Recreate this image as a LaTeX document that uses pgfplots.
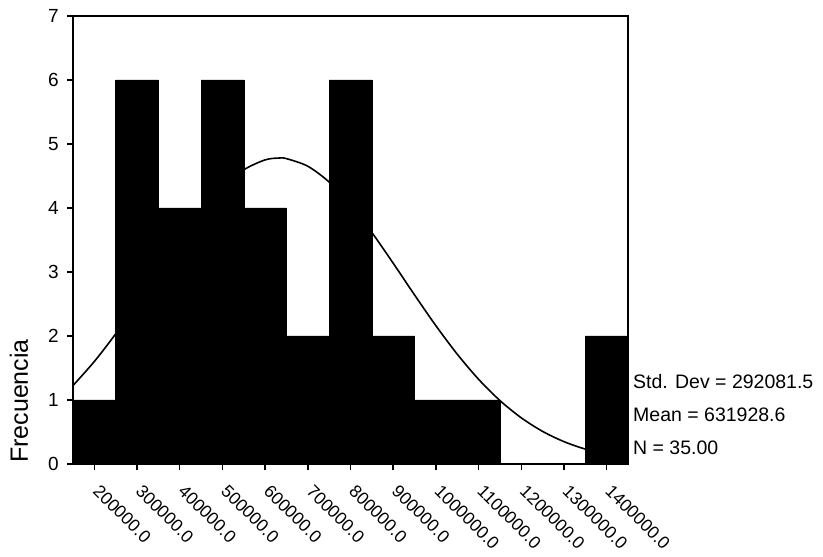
\documentclass[border=0pt]{standalone}
\usepackage{pgfplots}
\pgfplotsset{compat=1.18}
\usepackage{fontspec}
\setmainfont{Liberation Sans}
\begin{document}
\begin{tikzpicture}
\useasboundingbox (-73pt,-93pt) rectangle (750pt,464pt);
\begin{axis}[
  at={(0pt,0pt)}, anchor=south west,
  scale only axis, width=555pt, height=448pt,
  xmin=150000, xmax=1450000, ymin=0, ymax=7,
  axis line style={line width=1.4pt},
  tick pos=left, tick align=outside,
  major tick length=6pt,
  tick style={line width=1.4pt, black},
  xtick={200000,300000,400000,500000,600000,700000,800000,900000,1000000,1100000,1200000,1300000,1400000},
  xticklabels={200000.0,300000.0,400000.0,500000.0,600000.0,700000.0,800000.0,900000.0,1000000.0,1100000.0,1200000.0,1300000.0,1400000.0},
  scaled x ticks=false,
  ytick={0,1,2,3,4,5,6,7},
  /pgf/number format/assume math mode=true,
  xticklabel style={font=\fontsize{17.5}{20}\selectfont, rotate=-45, anchor=north west, inner sep=0pt, xshift=14pt, yshift=-5pt},
  yticklabel style={font=\fontsize{19}{22}\selectfont, anchor=east, inner sep=0pt, xshift=-8pt},
  clip=true,
  axis on top,
]
\addplot[black, line width=1.6pt, smooth] coordinates {
(150000,1.2255) (200000,1.6018) (250000,2.0332) (300000,2.5064) (350000,3.0004)
(400000,3.4879) (450000,3.9376) (500000,4.3169) (550000,4.5961) (600000,4.7520)
(631928.6,4.7805) (650000,4.7714) (700000,4.6524) (750000,4.4054) (800000,4.0511)
(850000,3.6177) (900000,3.1372) (950000,2.6422) (1000000,2.1609) (1050000,1.7162)
(1100000,1.3238) (1150000,0.9916) (1200000,0.7212) (1250000,0.5094) (1300000,0.3494)
(1350000,0.2328) (1400000,0.1506) (1450000,0.0946)};
\addplot[ybar interval, fill=black, draw=black] coordinates {
(150000,1) (250000,6) (350000,4) (450000,6) (550000,4) (650000,2) (750000,6)
(850000,2) (950000,1) (1050000,1) (1150000,0) (1250000,0) (1350000,2) (1450000,0)};
\end{axis}
\node[rotate=90, inner sep=0pt, font=\fontsize{25}{28}\selectfont] at (-54pt,63pt) {Frecuencia};
\begin{scope}[every node/.style={anchor=west, inner sep=0pt, font=\fontsize{19.5}{22}\selectfont}]
\node at (560pt,82pt) {Std. Dev = 292081.5};
\node at (560pt,49pt) {Mean = 631928.6};
\node at (560pt,16pt) {N = 35.00};
\end{scope}
\end{tikzpicture}
\end{document}
